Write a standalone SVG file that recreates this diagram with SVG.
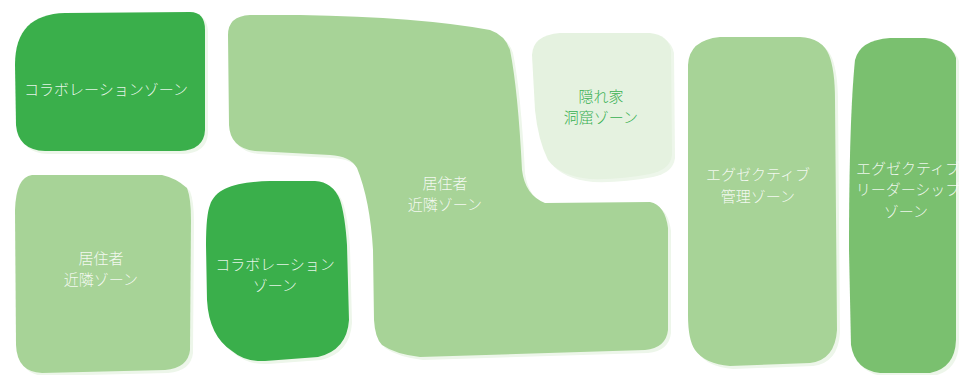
<svg xmlns="http://www.w3.org/2000/svg" width="959" height="375" viewBox="0 0 959 375">
<style>
.sh{fill:#EDF6EA}
.dk{fill:#3AAF4B}
.lt{fill:#A7D397}
.md{fill:#7AC06F}
.vl{fill:#E5F2E0}
text{font-family:"Noto Sans CJK JP","Noto Sans CJK SC",sans-serif;font-size:15px;text-anchor:middle;dominant-baseline:central;fill:#FFFFFF;fill-opacity:0.88;font-weight:300}
text.g{fill:#38B052;fill-opacity:1}
</style>
<rect width="959" height="375" fill="#FFFFFF"/>
<g id="zone-collab-1">
<path class="sh" transform="translate(3,3)" d="M15,65 C15,30 32,14 65,13 L190,12 Q205,12 205,30 L205,130 Q204,150 180,151 L45,151 Q18,150 16,125 Z"/>
<path class="dk" d="M15,65 C15,30 32,14 65,13 L190,12 Q205,12 205,30 L205,130 Q204,150 180,151 L45,151 Q18,150 16,125 Z"/>
<text x="106" y="88">コラボレーションゾーン</text>
</g>
<g id="zone-resident-1">
<path class="sh" transform="translate(3,3)" d="M32,175 L162,175 Q176,178 187,188 Q191,198 191,220 L190,350 Q188,368 165,370 L42,373 Q17,372 16,345 L15,210 Q16,177 32,175 Z"/>
<path class="lt" d="M32,175 L162,175 Q176,178 187,188 Q191,198 191,220 L190,350 Q188,368 165,370 L42,373 Q17,372 16,345 L15,210 Q16,177 32,175 Z"/>
<text x="101" y="257">居住者</text>
<text x="101" y="278">近隣ゾーン</text>
</g>
<g id="zone-collab-2">
<path class="sh" transform="translate(3,3)" d="M210,205 C216,188 235,182 270,181 L315,181 Q333,182 340,200 Q345,215 347,245 L349,320 Q347,350 318,357 L265,361 Q245,362 232,351 Q209,336 207,300 L206,245 Q206,215 210,205 Z"/>
<path class="dk" d="M210,205 C216,188 235,182 270,181 L315,181 Q333,182 340,200 Q345,215 347,245 L349,320 Q347,350 318,357 L265,361 Q245,362 232,351 Q209,336 207,300 L206,245 Q206,215 210,205 Z"/>
<text x="275" y="263">コラボレーション</text>
<text x="275" y="284">ゾーン</text>
</g>
<g id="zone-resident-2">
<path class="sh" transform="translate(3,3)" d="M228,35 Q228,16 250,15 L300,15 Q420,17 490,30 Q505,35 510,50 Q518,90 522,170 Q525,195 545,203 L650,202 Q665,205 668,228 L668,330 Q666,348 645,350 L420,357 Q395,354 382,345 Q375,338 374,320 L373,250 Q370,200 357,168 Q350,156 330,155 L255,151 Q230,148 229,125 Z"/>
<path class="lt" d="M228,35 Q228,16 250,15 L300,15 Q420,17 490,30 Q505,35 510,50 Q518,90 522,170 Q525,195 545,203 L650,202 Q665,205 668,228 L668,330 Q666,348 645,350 L420,357 Q395,354 382,345 Q375,338 374,320 L373,250 Q370,200 357,168 Q350,156 330,155 L255,151 Q230,148 229,125 Z"/>
<text x="445" y="182">居住者</text>
<text x="445" y="203">近隣ゾーン</text>
</g>
<g id="zone-hideout">
<path class="sh" transform="translate(3,3)" d="M532,55 Q533,35 560,33 L650,33 Q668,35 671,50 L672,155 Q670,170 650,174 Q620,180 590,179 Q560,176 548,160 Q538,140 535,110 Z"/>
<path class="vl" d="M532,55 Q533,35 560,33 L650,33 Q668,35 671,50 L672,155 Q670,170 650,174 Q620,180 590,179 Q560,176 548,160 Q538,140 535,110 Z"/>
<text class="g" x="601" y="95">隠れ家</text>
<text class="g" x="601" y="116">洞窟ゾーン</text>
</g>
<g id="zone-exec-mgmt">
<path class="sh" transform="translate(3,3)" d="M688,65 Q689,40 720,37 L800,37 Q822,38 829,55 Q835,70 835,100 L837,330 Q835,360 810,363 L730,366 Q705,364 695,350 Q688,340 688,315 Z"/>
<path class="lt" d="M688,65 Q689,40 720,37 L800,37 Q822,38 829,55 Q835,70 835,100 L837,330 Q835,360 810,363 L730,366 Q705,364 695,350 Q688,340 688,315 Z"/>
<text x="758" y="173">エグゼクティブ</text>
<text x="758" y="195">管理ゾーン</text>
</g>
<g id="zone-exec-leader">
<path class="sh" transform="translate(3,3)" d="M855,60 Q860,40 890,38 L925,38 Q950,40 956,58 L956,340 Q955,368 930,373 L880,373 Q855,370 851,345 L849,250 Q849,120 855,60 Z"/>
<path class="md" d="M855,60 Q860,40 890,38 L925,38 Q950,40 956,58 L956,340 Q955,368 930,373 L880,373 Q855,370 851,345 L849,250 Q849,120 855,60 Z"/>
<text x="908" y="167">エグゼクティブ</text>
<text x="908" y="188">リーダーシップ</text>
<text x="906" y="210">ゾーン</text>
</g>
<g id="connectors"></g>
</svg>
